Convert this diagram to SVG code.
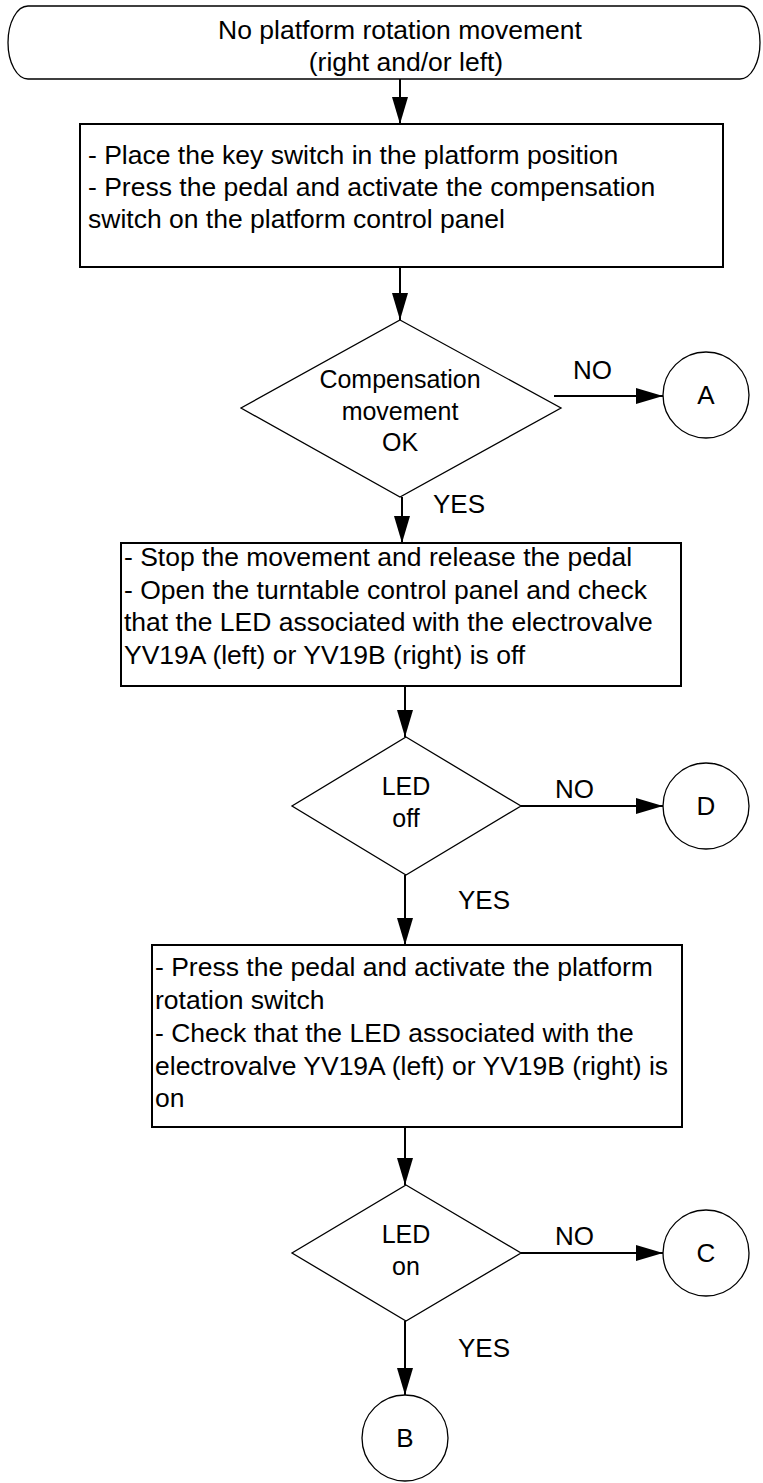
<svg xmlns="http://www.w3.org/2000/svg" width="763" height="1483" viewBox="0 0 763 1483">
<style>
  text { font-family: "Liberation Sans", Arial, sans-serif; font-size: 26.5px; fill: #000; }
  .c { text-anchor: middle; }
  .d { font-size: 25px; }
  .lbl { font-size: 26px; }
  .box { fill: #fff; stroke: #000; stroke-width: 2; }
  .thin { fill: #fff; stroke: #000; stroke-width: 1.3; }
  .conn { stroke: #000; stroke-width: 2; fill: none; marker-end: url(#arr); }
</style>
<defs>
  <marker id="arr" markerUnits="userSpaceOnUse" markerWidth="28" markerHeight="18" refX="27" refY="8" orient="auto">
    <path d="M0,0 L27,8 L0,16 Z" fill="#000"/>
  </marker>
</defs>
<rect width="763" height="1483" fill="#fff"/>

<g id="connectors">
  <line class="conn" x1="400" y1="79" x2="400" y2="124"/>
  <line class="conn" x1="400" y1="267" x2="400" y2="320"/>
  <line class="conn" x1="554" y1="396" x2="663" y2="396"/>
  <line class="conn" x1="402" y1="497" x2="402" y2="543"/>
  <line class="conn" x1="405" y1="686" x2="405" y2="737"/>
  <line class="conn" x1="521" y1="806" x2="663" y2="806"/>
  <line class="conn" x1="405" y1="875" x2="405" y2="945"/>
  <line class="conn" x1="405" y1="1127" x2="405" y2="1185"/>
  <line class="conn" x1="521" y1="1253" x2="663" y2="1253"/>
  <line class="conn" x1="405" y1="1321" x2="405" y2="1395"/>
  <text class="lbl" x="573" y="379">NO</text>
  <text class="lbl" x="433" y="513">YES</text>
  <text class="lbl" x="555" y="798">NO</text>
  <text class="lbl" x="458" y="909">YES</text>
  <text class="lbl" x="555" y="1245">NO</text>
  <text class="lbl" x="458" y="1357">YES</text>
</g>

<g id="start">
  <path class="thin" d="M28,6 H740 A20,36.5 0 0 1 740,79 H28 A20,36.5 0 0 1 28,6 Z"/>
  <text class="c" x="400" y="39">No platform rotation movement</text>
  <text class="c" x="406" y="71">(right and/or left)</text>
</g>

<g id="step1">
  <rect class="box" x="80" y="124" width="643" height="143"/>
  <text x="88" y="164" font-size="27">- Place the key switch in the platform position</text>
  <text x="88" y="196" font-size="27">- Press the pedal and activate the compensation</text>
  <text x="88" y="228" font-size="27">switch on the platform control panel</text>
</g>

<g id="decision1">
  <polygon class="thin" points="400,320 561,408 400,497 241,408"/>
  <text class="c d" x="400" y="388">Compensation</text>
  <text class="c d" x="400" y="420">movement</text>
  <text class="c d" x="400" y="451">OK</text>
</g>

<g id="connA">
  <circle class="thin" cx="706" cy="395" r="43"/>
  <text class="c lbl" x="706" y="404">A</text>
</g>

<g id="step2">
  <rect class="box" x="121" y="543" width="560" height="143"/>
  <text x="124" y="566">- Stop the movement and release the pedal</text>
  <text x="124" y="599">- Open the turntable control panel and check</text>
  <text x="124" y="631">that the LED associated with the electrovalve</text>
  <text x="124" y="664">YV19A (left) or YV19B (right) is off</text>
</g>

<g id="decision2">
  <polygon class="thin" points="406,737 521,806 406,875 292,806"/>
  <text class="c d" x="406" y="795">LED</text>
  <text class="c d" x="406" y="827">off</text>
</g>

<g id="connD">
  <circle class="thin" cx="706" cy="806" r="43"/>
  <text class="c lbl" x="706" y="815">D</text>
</g>

<g id="step3">
  <rect class="box" x="152" y="945" width="530" height="182"/>
  <text x="155" y="976">- Press the pedal and activate the platform</text>
  <text x="155" y="1009">rotation switch</text>
  <text x="155" y="1042">- Check that the LED associated with the</text>
  <text x="155" y="1075">electrovalve YV19A (left) or YV19B (right) is</text>
  <text x="155" y="1107">on</text>
</g>

<g id="decision3">
  <polygon class="thin" points="406,1185 521,1253 406,1321 292,1253"/>
  <text class="c d" x="406" y="1243">LED</text>
  <text class="c d" x="406" y="1275">on</text>
</g>

<g id="connC">
  <circle class="thin" cx="706" cy="1253" r="43"/>
  <text class="c lbl" x="706" y="1262">C</text>
</g>

<g id="connB">
  <circle class="thin" cx="405" cy="1438" r="43"/>
  <text class="c lbl" x="405" y="1447">B</text>
</g>
</svg>
